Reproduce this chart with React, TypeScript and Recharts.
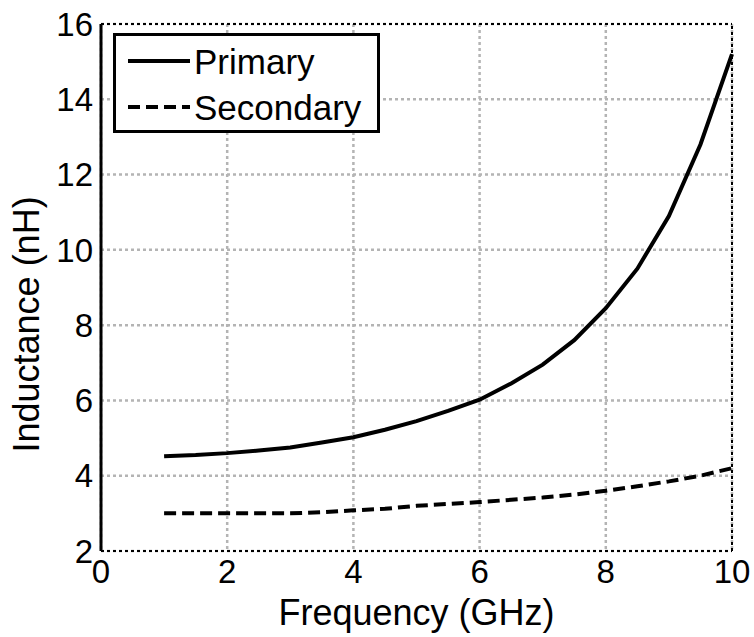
import { LineChart, Line, XAxis, YAxis, CartesianGrid, Legend, ReferenceLine } from 'recharts';

// frequency grid (GHz) and inductance readings (nH)
const freq = [1, 1.5, 2, 2.5, 3, 3.5, 4, 4.5, 5, 5.5, 6, 6.5, 7, 7.5, 8, 8.5, 9, 9.5, 10];
const primary = [4.52, 4.55, 4.6, 4.67, 4.75, 4.88, 5.02, 5.22, 5.45, 5.72, 6.02, 6.45, 6.95, 7.6, 8.45, 9.5, 10.9, 12.8, 15.2];
const secondary = [3.0, 3.0, 3.0, 3.0, 3.0, 3.03, 3.08, 3.12, 3.2, 3.25, 3.3, 3.36, 3.42, 3.5, 3.6, 3.72, 3.85, 4.0, 4.2];

const xTicks = [0, 2, 4, 6, 8, 10];
const yTicks = [2, 4, 6, 8, 10, 12, 14, 16];

const FONT = 'Liberation Sans, Arial, sans-serif';

const data = freq.map((f, i) => ({ f, primary: primary[i], secondary: secondary[i] }));

function LegendBox({ payload }: any) {
  return (
    <div
      style={{
        border: '3px solid #000',
        background: '#fff',
        width: 261,
        height: 94,
        fontFamily: FONT,
        fontSize: 35,
        color: '#000',
        boxSizing: 'content-box',
        lineHeight: 1,
      }}
    >
      {(payload || []).map((p: any, i: number) => (
        <div key={i} style={{ display: 'flex', alignItems: 'center', height: 46, marginTop: i === 0 ? 2 : 0 }}>
          <svg width={64} height={10} style={{ marginLeft: 10 }}>
            <line
              x1={2}
              y1={5}
              x2={64}
              y2={5}
              stroke="#000"
              strokeWidth={4}
              strokeDasharray={p.payload?.strokeDasharray}
            />
          </svg>
          <span style={{ marginLeft: 4 }}>{p.value}</span>
        </div>
      ))}
    </div>
  );
}

export default function App() {
  return (
    <div style={{ position: 'absolute', left: 0, top: 0, background: '#fff' }}>
      <LineChart width={754} height={637} data={data} margin={{ top: 24, right: 22, left: 0, bottom: 0 }}>
        <CartesianGrid stroke="#b4b4b4" strokeWidth={2.5} strokeDasharray="3 3" horizontalValues={yTicks} verticalValues={xTicks} />
        <XAxis
          dataKey="f"
          type="number"
          domain={[0, 10]}
          ticks={xTicks}
          height={86}
          axisLine={false}
          tickLine={false}
          fontSize={33}
          tick={{ fill: '#000', fontSize: 33, fontFamily: FONT }}
          tickMargin={3}
          label={{ value: 'Frequency (GHz)', position: 'insideBottom', offset: 12, fill: '#000', fontSize: 36, fontFamily: FONT }}
        />
        <YAxis
          type="number"
          domain={[2, 16]}
          ticks={yTicks}
          width={101}
          axisLine={{ stroke: '#000', strokeWidth: 3 }}
          tickLine={false}
          fontSize={33}
          tick={{ fill: '#000', fontSize: 33, fontFamily: FONT }}
          tickMargin={2}
          label={{ value: 'Inductance (nH)', angle: -90, position: 'insideLeft', offset: 26, dy: 165, fill: '#000', fontSize: 36, fontFamily: FONT }}
        />
        <ReferenceLine y={16} stroke="#000" strokeWidth={2} strokeDasharray="3 3" />
        <ReferenceLine y={2} stroke="#000" strokeWidth={2} strokeDasharray="3 3" />
        <ReferenceLine x={10} stroke="#000" strokeWidth={2} strokeDasharray="3 3" />
        <Legend
          content={<LegendBox />}
          layout="vertical"
          verticalAlign="middle"
          align="center"
          wrapperStyle={{ left: 113, top: 33, width: 267, height: 100 }}
        />
        <Line
          name="Primary"
          dataKey="primary"
          type="linear"
          stroke="#000"
          strokeWidth={4}
          dot={false}
          isAnimationActive={false}
        />
        <Line
          name="Secondary"
          dataKey="secondary"
          type="linear"
          stroke="#000"
          strokeWidth={4}
          strokeDasharray="12 6"
          dot={false}
          isAnimationActive={false}
        />
      </LineChart>
    </div>
  );
}
